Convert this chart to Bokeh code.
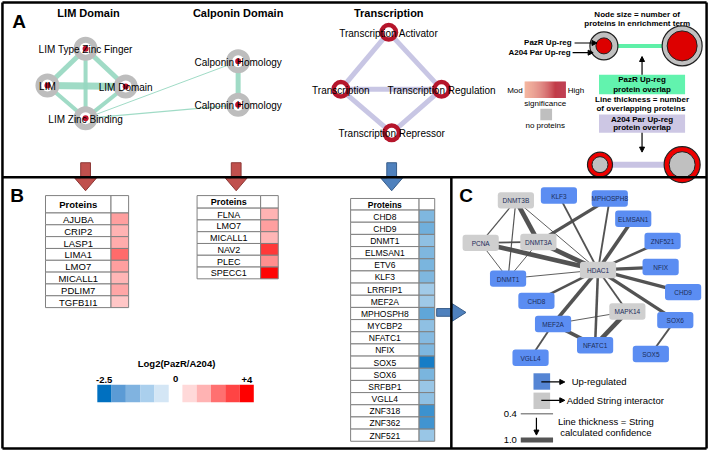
import numpy as np
from bokeh.plotting import figure
from bokeh.models import Range1d, Arrow, NormalHead, LinearColorMapper, ColumnDataSource
from bokeh.core.properties import value
from bokeh.embed import file_html
from bokeh.resources import INLINE

# ---------------- DATA ----------------
# Panel A: enrichment networks
lim_terms = ["LIM Type Zinc Finger", "LIM", "LIM Domain", "LIM Zinc Binding"]
calponin_terms = ["Calponin Homology", "Calponin Homology "]
transcription_terms = ["Transcription Activator", "Transcription", "Transcription Regulation", "Transcription Repressor"]
# (term a, term b, number of overlapping proteins)
pazr_overlaps = [
    ("LIM", "LIM Domain", 7),
    ("LIM Type Zinc Finger", "LIM", 5),
    ("LIM Type Zinc Finger", "LIM Domain", 5),
    ("LIM Type Zinc Finger", "LIM Zinc Binding", 4),
    ("LIM", "LIM Zinc Binding", 4),
    ("LIM Domain", "LIM Zinc Binding", 4),
    ("LIM Zinc Binding", "Calponin Homology", 1),
    ("LIM Zinc Binding", "Calponin Homology ", 1.3),
    ("Calponin Homology", "Calponin Homology ", 5),
]
a204_overlaps = [
    ("Transcription Activator", "Transcription", 5),
    ("Transcription Activator", "Transcription Regulation", 5),
    ("Transcription", "Transcription Regulation", 5),
    ("Transcription", "Transcription Repressor", 5),
    ("Transcription Regulation", "Transcription Repressor", 5),
]

# Panel B: protein tables, log2(PazR/A204)
lim_proteins = ["AJUBA", "CRIP2", "LASP1", "LIMA1", "LMO7", "MICALL1", "PDLIM7", "TGFB1I1"]
lim_log2 = [1.5, 1.2, 1.3, 2.3, 1.5, 1.15, 1.4, 0.9]
calponin_proteins = ["FLNA", "LMO7", "MICALL1", "NAV2", "PLEC", "SPECC1"]
calponin_log2 = [1.2, 1.5, 1.15, 3.1, 1.75, 3.9]
transcription_proteins = ["CHD8", "CHD9", "DNMT1", "ELMSAN1", "ETV6", "KLF3", "LRRFIP1", "MEF2A",
                          "MPHOSPH8", "MYCBP2", "NFATC1", "NFIX", "SOX5", "SOX6", "SRFBP1", "VGLL4",
                          "ZNF318", "ZNF362", "ZNF521"]
transcription_log2 = [-1.25, -1.4, -1.1, -1.25, -1.3, -1.25, -0.92, -0.95,
                      -1.55, -1.1, -1.2, -1.25, -2.25, -1.3, -1.0, -1.1,
                      -1.9, -1.85, -1.0]
scale_labels = ["-2.5", "0", "+4"]

# Panel C: STRING network
string_nodes = ["DNMT3B", "KLF3", "MPHOSPH8", "ELMSAN1", "ZNF521", "PCNA", "DNMT3A", "NFIX", "HDAC1",
                "DNMT1", "CHD9", "CHD8", "MAPK14", "SOX6", "MEF2A", "NFATC1", "SOX5", "VGLL4"]
string_added = ["DNMT3B", "PCNA", "DNMT3A", "HDAC1", "MAPK14"]
# (a, b, STRING confidence)
string_edges = [
    ("DNMT3B", "PCNA", 0.45), ("DNMT3B", "DNMT3A", 0.95), ("DNMT3B", "DNMT1", 0.45),
    ("DNMT3B", "HDAC1", 0.42), ("PCNA", "DNMT3A", 0.55), ("PCNA", "HDAC1", 0.95),
    ("PCNA", "DNMT1", 0.42), ("DNMT3A", "DNMT1", 0.42), ("DNMT3A", "HDAC1", 0.95),
    ("DNMT3A", "MPHOSPH8", 0.75), ("KLF3", "HDAC1", 0.55), ("MPHOSPH8", "HDAC1", 0.55),
    ("ELMSAN1", "HDAC1", 0.8), ("ZNF521", "HDAC1", 0.65), ("NFIX", "HDAC1", 0.75),
    ("CHD9", "HDAC1", 0.75), ("SOX6", "HDAC1", 0.75), ("DNMT1", "HDAC1", 0.42),
    ("CHD8", "HDAC1", 0.65), ("MEF2A", "HDAC1", 0.8), ("NFATC1", "HDAC1", 0.65),
    ("MAPK14", "HDAC1", 0.55), ("MEF2A", "MAPK14", 0.42), ("MEF2A", "NFATC1", 0.8),
    ("NFATC1", "MAPK14", 0.95), ("MEF2A", "VGLL4", 0.55), ("SOX6", "SOX5", 0.55),
]

# ---------------- LAYOUT (pixel positions) ----------------
W, H = 726, 467
FONT = value("Liberation Sans")
p = figure(width=710, height=451, x_range=Range1d(0, W), y_range=Range1d(H, 0),
           output_backend="svg", toolbar_location=None, min_border=0)
p.axis.visible = False
p.grid.visible = False
p.outline_line_color = None
p.background_fill_color = "white"
p.border_fill_color = "white"


def txt(x, y, s, size, bold=False, align="center", color="black"):
    p.text(x=[x], y=[y], text=[s], text_font=FONT, text_font_size=value(f"{size}px"),
           text_font_style="bold" if bold else "normal", text_align=align,
           text_baseline="middle", text_color=color)


def arrow(x0, y0, x1, y1, lw=1.2, size=6):
    p.add_layout(Arrow(end=NormalHead(size=size, fill_color="black", line_color="black"),
                       x_start=x0, y_start=y0, x_end=x1, y_end=y1,
                       line_width=lw, line_color="black"))


def hex_lerp(c1, c2, t):
    a = np.array([int(c1[i:i + 2], 16) for i in (1, 3, 5)], float)
    b = np.array([int(c2[i:i + 2], 16) for i in (1, 3, 5)], float)
    c = a + (b - a) * t
    return "#%02x%02x%02x" % tuple(int(round(v)) for v in c)


# ---- panel A networks ----
posA = {
    "LIM Type Zinc Finger": (87, 50), "LIM": (48, 88), "LIM Domain": (128, 89),
    "LIM Zinc Binding": (87, 122), "Calponin Homology": (243, 63), "Calponin Homology ": (243, 108),
    "Transcription Activator": (397, 33), "Transcription": (348, 92),
    "Transcription Regulation": (451, 92), "Transcription Repressor": (400, 137),
}
for a, b, n in pazr_overlaps:
    (xa, ya), (xb, yb) = posA[a], posA[b]
    p.line([xa, xb], [ya, yb], line_color="#96d7c0", line_width=n, line_alpha=0.9)
for a, b, n in a204_overlaps:
    (xa, ya), (xb, yb) = posA[a], posA[b]
    p.line([xa, xb], [ya, yb], line_color="#c8c6e4", line_width=n)

gx = [posA[t][0] for t in lim_terms + calponin_terms]
gy = [posA[t][1] for t in lim_terms + calponin_terms]
p.scatter(gx, gy, size=24, fill_color="#bdbdbd", line_color=None)
p.scatter(gx, gy, size=12, fill_color="white", line_color=None)
p.scatter(gx, gy, size=6, fill_color="#c0102a", line_color=None)
tx = [posA[t][0] for t in transcription_terms]
ty = [posA[t][1] for t in transcription_terms]
p.scatter(tx, ty, size=19, fill_color="#b5152b", line_color=None)
p.scatter(tx, ty, size=10, fill_color="white", line_color=None)
for t in lim_terms + calponin_terms + transcription_terms:
    txt(posA[t][0], posA[t][1] + 1, t.strip(), 10)

txt(19, 22, "A", 19, bold=True)
txt(90, 13, "LIM Domain", 11, bold=True)
txt(243, 13, "Calponin Domain", 11, bold=True)
txt(397, 13, "Transcription", 11, bold=True)

# ---- panel A legend ----
txt(651, 14, "Node size = number of", 8, bold=True)
txt(651, 24, "proteins in enrichment term", 8, bold=True)
p.line([617, 697], [47, 47], line_color="#5ef0a8", line_width=4)
p.scatter([617, 697], [47, 47], size=[28, 40], fill_color="#c0c0c0", line_color="#202020", line_width=1.2)
p.scatter([617, 697], [47, 47], size=[16, 30], fill_color="#dd0000", line_color="#202020", line_width=1)
txt(584, 44, "PazR Up-reg", 8, bold=True, align="right")
txt(583, 54, "A204 Par Up-reg", 8, bold=True, align="right")
arrow(587, 44, 610, 44, size=5)
arrow(585, 54, 606, 54, size=5)
arrow(656, 77, 656, 58, size=5)
p.quad(left=[612], right=[700], top=[77], bottom=[97], fill_color="#62f3ae", line_color=None)
txt(656, 82, "PazR Up-reg", 8, bold=True)
txt(656, 92, "protein overlap", 8, bold=True)
txt(656, 102, "Line thickness = number", 8, bold=True)
txt(656, 112, "of overlapping  proteins", 8, bold=True)
p.quad(left=[612], right=[700], top=[118], bottom=[137], fill_color="#cdc7e4", line_color=None)
txt(656, 123, "A204 Par Up-reg", 8, bold=True)
txt(656, 132, "protein overlap", 8, bold=True)
arrow(656, 137, 656, 157, size=5)
p.line([613, 697], [170, 170], line_color="#c8c3e3", line_width=6)
p.scatter([613, 697], [170, 170], size=[25, 36], fill_color="#ee0000", line_color="#202020", line_width=1.2)
p.scatter([613, 697], [170, 170], size=[16, 26], fill_color="#c0c0c0", line_color="#202020", line_width=1)

# significance gradient
gsteps = np.linspace(0, 1, 43)
p.quad(left=536 + 42 * gsteps[:-1], right=536 + 42 * gsteps[1:], top=84, bottom=101,
       fill_color=[hex_lerp("#f2a284", "#b0132e", t) for t in gsteps[:-1]], line_color=None)
txt(534, 93, "Mod", 8, align="right")
txt(580, 93, "High", 8, align="left")
txt(557, 107, "significance", 8)
p.quad(left=[552], right=[564], top=[112], bottom=[124], fill_color="#bfbfbf", line_color=None)
txt(557, 129, "no proteins", 8)

# ---- block arrows A -> B ----
def down_arrow(cx, fill, edge):
    xs = [cx - 5, cx + 5, cx + 5, cx + 11, cx, cx - 11, cx - 5]
    ys = [168, 168, 184, 184, 197, 184, 184]
    p.patch(xs, ys, fill_color=fill, line_color=edge, line_width=1)

down_arrow(87, "#c0504d", "#8c3836")
down_arrow(241, "#c0504d", "#8c3836")
down_arrow(400, "#4f81bd", "#385d8a")
p.patch([446, 462, 462, 476, 462, 462, 446], [319, 319, 314, 323, 332, 327, 327],
        fill_color="#4f81bd", line_color="#385d8a", line_width=1)

# ---- panel B tables ----
N = 256
pal_vals = np.linspace(-2.5, 4, N)
palette = [hex_lerp("#ffffff", "#0070c0", -v / 2.5) if v < 0 else hex_lerp("#ffffff", "#ff0000", v / 4)
           for v in pal_vals]
mapper = LinearColorMapper(palette=palette, low=-2.5, high=4)


def table(x0, xn, x1, yt, yh, rh, names, vals, fs):
    n = len(names)
    p.quad(left=[x0, xn], right=[xn, x1], top=[yt, yt], bottom=[yh, yh],
           fill_color="white", line_color="#808080", line_width=1)
    tops = yh + rh * np.arange(n)
    bots = tops + rh
    p.quad(left=[x0] * n, right=[xn] * n, top=tops, bottom=bots, fill_color="white",
           line_color="#808080", line_width=1)
    src = ColumnDataSource(dict(l=[xn] * n, r=[x1] * n, t=tops, b=bots, v=vals))
    p.quad(left="l", right="r", top="t", bottom="b", source=src,
           fill_color={"field": "v", "transform": mapper}, line_color="#808080", line_width=1)
    txt((x0 + xn) / 2, (yt + yh) / 2 + 0.5, "Proteins", fs, bold=True)
    p.text(x=[(x0 + xn) / 2] * n, y=list(tops + rh / 2 + 0.5), text=names, text_font=FONT,
           text_font_size=value(f"{fs}px"), text_align="center", text_baseline="middle",
           text_color="black")


txt(17, 202, "B", 19, bold=True)
table(46, 113, 131, 202, 220, 12.25, lim_proteins, lim_log2, 9.5)
table(201, 266, 284, 202, 215, 12.2, calponin_proteins, calponin_log2, 9)
table(358, 428, 444, 205, 217, 12.6, transcription_proteins, transcription_log2, 8.5)

# color scale legend
txt(180, 376, "Log2(PazR/A204)", 9.5, bold=True)
blues = ["#0070c0", "#5b9bd5", "#80b3e0", "#aacfed", "#d4e6f5"]
reds = ["#ffd9d9", "#ffb3b3", "#ff7070", "#ff4444", "#ff0000"]
bw = 14.6
p.quad(left=[99 + i * bw for i in range(5)], right=[99 + (i + 1) * bw for i in range(5)],
       top=398, bottom=416, fill_color=blues, line_color=None)
p.quad(left=[186 + i * bw for i in range(5)], right=[186 + (i + 1) * bw for i in range(5)],
       top=398, bottom=416, fill_color=reds, line_color=None)
txt(106, 393, scale_labels[0], 9.5, bold=True)
txt(179, 392, scale_labels[1], 9.5, bold=True)
txt(252, 393, scale_labels[2], 9.5, bold=True)

# ---- panel C STRING network ----
posC = {
    "DNMT3B": (527, 207), "KLF3": (571, 202), "MPHOSPH8": (623, 205), "ELMSAN1": (647, 226),
    "ZNF521": (677, 249), "PCNA": (491, 251), "DNMT3A": (550, 250), "NFIX": (675, 276),
    "HDAC1": (611, 279), "DNMT1": (519, 288), "CHD9": (698, 302), "CHD8": (548, 311),
    "MAPK14": (641, 322), "SOX6": (690, 331), "MEF2A": (565, 335), "NFATC1": (608, 357),
    "SOX5": (665, 366), "VGLL4": (542, 370),
}
for a, b, c in string_edges:
    (xa, ya), (xb, yb) = posC[a], posC[b]
    w = 0.8 + (c - 0.4) / 0.6 * 4.2
    p.line([xa, xb], [ya, yb], line_color="#4a4a4a", line_width=w, line_alpha=0.95)
cx = np.array([posC[n][0] for n in string_nodes], float)
cy = np.array([posC[n][1] for n in string_nodes], float)
ccol = ["#cfcfcf" if n in string_added else "#5b8df2" for n in string_nodes]
p.quad(left=cx - 18.5, right=cx + 18.5, top=cy - 8.5, bottom=cy + 8.5, fill_color=ccol,
       line_color=None, border_radius=3)
p.text(x=list(cx), y=list(cy + 0.5), text=string_nodes, text_font=FONT, text_font_size=value("6.5px"),
       text_align="center", text_baseline="middle", text_color="#1c2d5a")
txt(476, 202, "C", 19, bold=True)

# panel C legend
p.quad(left=[545, 545], right=[562, 562], top=[386, 406], bottom=[403, 423],
       fill_color=["#5585d4", "#c8c8c8"], line_color=None)
arrow(553, 395, 577, 395, size=5)
arrow(553, 414, 577, 414, size=5)
txt(584, 395, "Up-regulated", 9.5, align="left")
txt(579, 414, "Added String interactor", 9.5, align="left")
txt(528, 428, "0.4", 9.5, align="right")
p.line([532, 565], [428, 428], line_color="#555555", line_width=1)
arrow(548, 432, 548, 450, size=5)
txt(528, 455, "1.0", 9.5, align="right")
p.line([532, 565], [455, 455], line_color="#555555", line_width=5)
txt(619, 436, "Line thickness = String", 9.5)
txt(619, 447, "calculated confidence", 9.5)

# ---- frame ----
p.segment(x0=[2, 2, 722, 2, 2, 461], y0=[2, 2, 2, 464, 183, 183],
          x1=[722, 2, 722, 722, 722, 461], y1=[2, 464, 464, 464, 183, 464],
          line_color="black", line_width=2.5)

open("out.html", "w").write(file_html(p, INLINE))
